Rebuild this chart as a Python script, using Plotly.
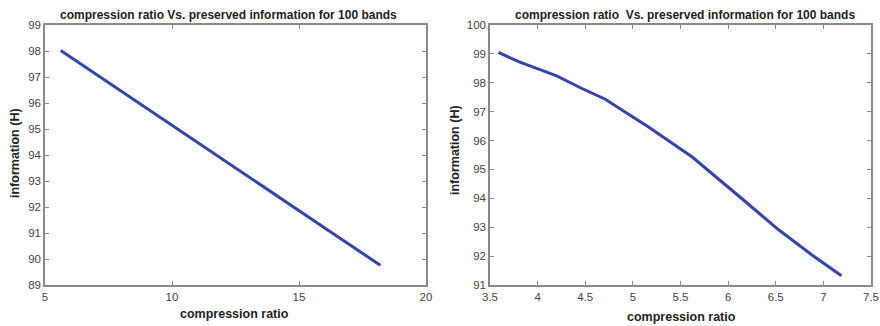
import plotly.graph_objects as go

# Left panel data
left_cr = [5.62, 7.0, 8.35, 10.0, 11.3, 12.68, 14.0, 15.3, 16.6, 18.2]
left_info = [98.02, 97.11, 96.22, 95.13, 94.28, 93.37, 92.51, 91.66, 90.81, 89.76]

# Right panel data
right_cr = [3.59, 3.80, 4.20, 4.46, 4.71, 5.16, 5.62, 5.83, 6.18, 6.53, 6.88, 7.19]
right_info = [99.05, 98.73, 98.24, 97.81, 97.43, 96.48, 95.44, 94.87, 93.89, 92.91, 92.04, 91.32]

left_xticks = [5, 10, 15, 20]
left_yticks = list(range(89, 100))
right_xticks = [3.5, 4, 4.5, 5, 5.5, 6, 6.5, 7, 7.5]
right_yticks = list(range(91, 101))

title_left = "compression ratio Vs. preserved information for 100 bands"
title_right = "compression ratio  Vs. preserved information for 100 bands"
xlabel = "compression ratio"
ylabel = "information (H)"

LINE = "#3344AA"
AX = "#8a8a8a"
FONT = "Liberation Sans, Arial, sans-serif"

fig = go.Figure()
fig.add_trace(go.Scatter(x=left_cr, y=left_info, mode="lines",
                         line=dict(color=LINE, width=3), xaxis="x", yaxis="y",
                         showlegend=False))
fig.add_trace(go.Scatter(x=right_cr, y=right_info, mode="lines",
                         line=dict(color=LINE, width=3), xaxis="x2", yaxis="y2",
                         showlegend=False))

W, H = 880, 326
ydom = [(H - 285) / H, (H - 25) / H]

common = dict(showline=True, linecolor=AX, linewidth=1.5, mirror="ticks",
              ticks="inside", ticklen=4, tickcolor=AX, showgrid=False,
              zeroline=False, automargin=False,
              tickfont=dict(family=FONT, size=11.5, color="#444"))

fig.update_layout(
    width=W, height=H,
    margin=dict(l=0, r=0, t=0, b=0, autoexpand=False),
    paper_bgcolor="white", plot_bgcolor="white",
    font=dict(family=FONT),
    xaxis=dict(domain=[45 / W, 426 / W], range=[5, 20], tickvals=left_xticks,
               anchor="y", **common),
    yaxis=dict(domain=ydom, range=[89, 99], tickvals=left_yticks,
               anchor="x", **common),
    xaxis2=dict(domain=[490 / W, 871 / W], range=[3.5, 7.5], tickvals=right_xticks,
                ticktext=[("%g" % v) for v in right_xticks],
                anchor="y2", **common),
    yaxis2=dict(domain=ydom, range=[91, 100], tickvals=right_yticks,
                anchor="x2", **common),
)

def ann(x, y, text, size, angle=0):
    fig.add_annotation(x=x, y=y, xref="paper", yref="paper", text="<b>%s</b>" % text,
                       showarrow=False, textangle=angle, xanchor="center", yanchor="middle",
                       font=dict(family=FONT, size=size, color="#222"))

ann(228 / W, 1 - 15 / H, title_left, 12)
ann(685 / W, 1 - 15 / H, title_right, 12)
ann(234 / W, 1 - 314 / H, xlabel, 12.5)
ann(681 / W, 1 - 317 / H, xlabel, 12.5)
ann(15 / W, 1 - 153 / H, ylabel, 12.5, -90)
ann(455 / W, 1 - 150 / H, ylabel, 12.5, -90)

fig.write_html("out.html", config={"displayModeBar": False},
               post_script="document.body.style.margin='0px';document.body.style.overflow='hidden';")
